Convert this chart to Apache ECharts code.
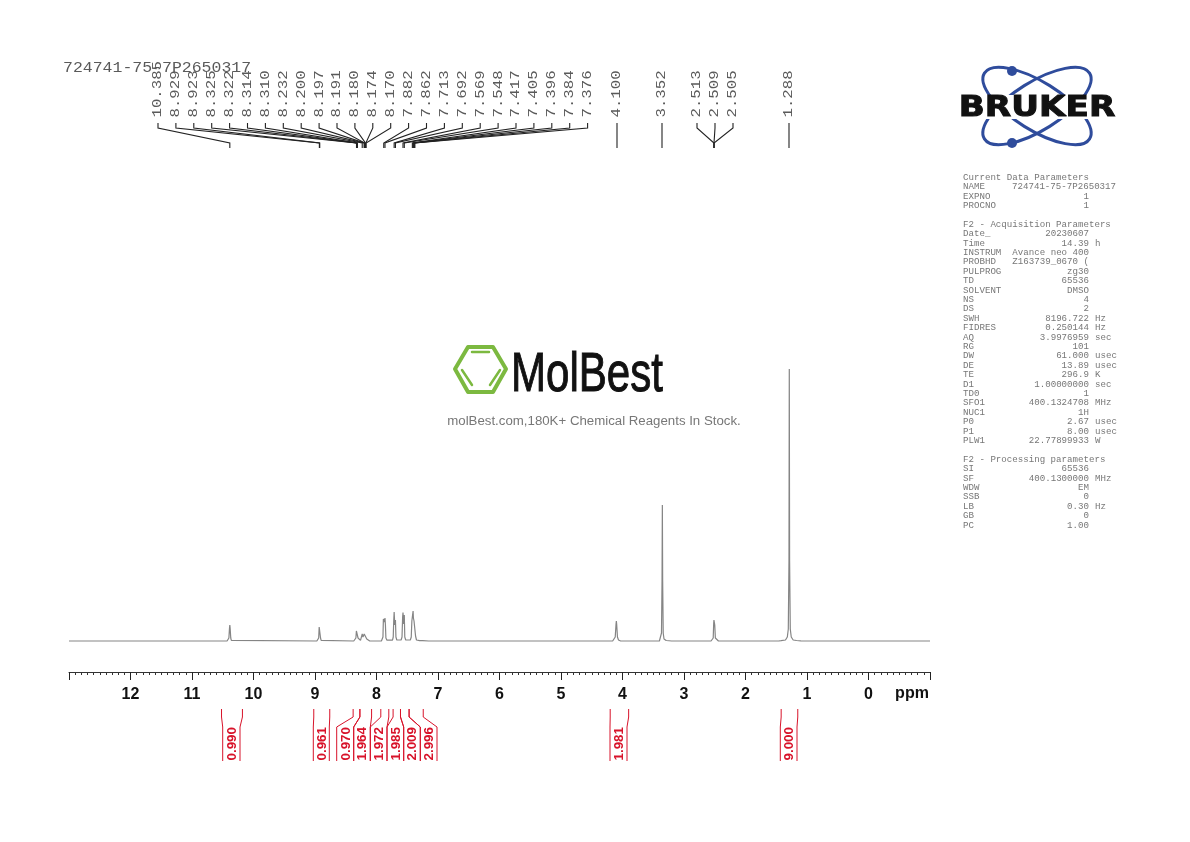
<!DOCTYPE html>
<html><head><meta charset="utf-8">
<style>html,body{margin:0;padding:0;background:#fff}#c{width:1190px;height:842px}</style>
<script src="https://cdn.jsdelivr.net/npm/echarts@6/dist/echarts.min.js"></script>
</head><body><div id="c"></div>
<script>
const sampleName = '724741-75-7P2650317';
const spectrumPpm = [13,10.43,10.41,10.40,10.39,10.385,10.38,10.37,10.36,10.34,
 8.97,8.95,8.94,8.932,8.929,8.926,8.923,8.92,8.91,8.90,8.88,
 8.37,8.35,8.335,8.327,8.322,8.318,8.314,8.31,8.30,8.285,8.26,
 8.245,8.232,8.22,8.208,8.2,8.197,8.191,8.185,8.18,8.174,8.17,8.158,8.14,8.11,
 7.92,7.905,7.895,7.888,7.882,7.875,7.868,7.862,7.855,7.847,7.83,7.80,
 7.74,7.728,7.72,7.713,7.703,7.697,7.692,7.684,7.67,
 7.60,7.585,7.575,7.569,7.558,7.553,7.548,7.54,7.525,
 7.45,7.435,7.425,7.417,7.41,7.405,7.4,7.396,7.39,7.384,7.376,7.365,7.35,7.3,7.25,7.23,7.22,7.15,
 4.16,4.135,4.118,4.105,4.1,4.095,4.082,4.065,4.03,
 3.40,3.38,3.366,3.357,3.352,3.347,3.338,3.325,3.29,3.2,
 2.56,2.54,2.525,2.517,2.513,2.509,2.505,2.5,2.49,2.475,2.44,
 1.46,1.44,1.42,1.4,1.35,1.32,1.304,1.293,1.288,1.283,1.272,1.256,1.225,1.17,1.14,1.1,1.0,-1];
const spectrumHeight = [0,0,.6,3,13,16,13,3,.6,0,
 0,.6,3,14,15.5,15,15,12,3,.6,0,
 0,1,3,10,11,8.5,9,9.5,3,1,.6,
 2,7,4,5.5,7,7.5,7,6,7,7.5,7,2,.5,0,
 0,1,4,22,24,19,20,23,16,3,.8,0,
 .8,4,20,29,16,18,21,4,1,
 1,4,24,28.5,17,22,26,4,1,
 1,4,20,24,22,30,23,25,20,21,18,5,1,.3,.3,.8,.3,0,
 0,1,4,17,20,17,4,1,0,
 0,2,8,60,136,60,8,2,.5,0,
 0,1,3,18,21,22,20,16,3,1,0,
 0,.5,.3,.5,1,4,12,80,272,80,12,4,1,.5,.8,.2,0,0];
const peakLabels = ['10.385','8.929','8.923','8.325','8.322','8.314','8.310','8.232','8.200','8.197','8.191','8.180','8.174','8.170','7.882','7.862','7.713','7.692','7.569','7.548','7.417','7.405','7.396','7.384','7.376','4.100','3.352','2.513','2.509','2.505','1.288'];
const integralFrom = [10.52,9.02,8.38,8.27,7.93,7.73,7.61,7.47,4.20,1.42];
const integralTo   = [10.18,8.76,8.27,8.08,7.80,7.61,7.47,7.24,3.90,1.15];
const integralValues = ['0.990','0.961','0.970','1.964','1.972','1.985','2.009','2.996','1.981','9.000'];
const axisTicks = [12,11,10,9,8,7,6,5,4,3,2,1,0];
const paramRows = [
 [0,'Current Data Parameters','',''],[1,'NAME',sampleName,''],[2,'EXPNO','1',''],[3,'PROCNO','1',''],
 [5,'F2 - Acquisition Parameters','',''],[6,'Date_','20230607',''],[7,'Time','14.39','h'],[8,'INSTRUM','Avance neo 400',''],
 [9,'PROBHD','Z163739_0670 (',''],[10,'PULPROG','zg30',''],[11,'TD','65536',''],[12,'SOLVENT','DMSO',''],[13,'NS','4',''],[14,'DS','2',''],
 [15,'SWH','8196.722','Hz'],[16,'FIDRES','0.250144','Hz'],[17,'AQ','3.9976959','sec'],[18,'RG','101',''],[19,'DW','61.000','usec'],
 [20,'DE','13.89','usec'],[21,'TE','296.9','K'],[22,'D1','1.00000000','sec'],[23,'TD0','1',''],[24,'SFO1','400.1324708','MHz'],
 [25,'NUC1','1H',''],[26,'P0','2.67','usec'],[27,'P1','8.00','usec'],[28,'PLW1','22.77899933','W'],
 [30,'F2 - Processing parameters','',''],[31,'SI','65536',''],[32,'SF','400.1300000','MHz'],[33,'WDW','EM',''],[34,'SSB','0',''],
 [35,'LB','0.30','Hz'],[36,'GB','0',''],[37,'PC','1.00','']];

// layout only
const labelColumnX = i => i < 25 ? 158 + 17.9 * i : [617,662,697,715,733,789][i-25];
const leaderTargetX = {'2.513':714,'2.509':714,'2.505':714,'4.100':617,'3.352':662,'1.288':789};
const integralCellEdges = [[222.7,240],[313.3,329.3],[336.7,353.7],[353.7,370.3],[370.3,387],[387,403.7],[403.7,420.3],[420.3,437],[610,627],[780.3,797]];
const RED = '#d8132a', MONO = '"Liberation Mono","DejaVu Sans Mono",monospace', SANS = '"Liberation Sans",Arial,sans-serif';

const chart = echarts.init(document.getElementById('c'), null, {renderer:'canvas'});

function renderLeader(params, api){
  const i = params.dataIndex, lab = peakLabels[i], lx = labelColumnX(i);
  const px = leaderTargetX[lab] !== undefined ? leaderTargetX[lab] : api.coord([parseFloat(lab),0])[0];
  return {type:'group', silent:true, children:[
    {type:'polyline', shape:{points:[[lx,123],[lx,128],[px,143],[px,148]]}, style:{stroke:'#222',lineWidth:1.1,fill:null}},
    {type:'text', x:lx, y:117.5, rotation:Math.PI/2, scaleY:0.82, style:{text:lab, font:'15.7px '+MONO, fill:'#5a5a5a', align:'left', verticalAlign:'middle'}}
  ]};
}
function renderIntegral(params, api){
  const i = params.dataIndex, e = integralCellEdges[i];
  const a = api.coord([integralFrom[i],0])[0], b = api.coord([integralTo[i],0])[0];
  const edge = (t,m) => ({type:'polyline', shape:{points:[[t,709],[t,717],[m,727],[m,761]]}, style:{stroke:RED,lineWidth:1,fill:null}});
  return {type:'group', silent:true, children:[edge(a,e[0]), edge(b,e[1]),
    {type:'text', x:(e[0]+e[1])/2+0.8, y:760.5, rotation:Math.PI/2, style:{text:integralValues[i], font:'bold 13.4px '+SANS, fill:RED, align:'left', verticalAlign:'middle'}}
  ]};
}

const graphic = [];
graphic.push({type:'text', x:63, y:68, scaleY:0.85, style:{text:sampleName, font:'16.5px '+MONO, fill:'#5a5a5a', align:'left', verticalAlign:'middle'}});
graphic.push({type:'text', x:912, y:694, style:{text:'ppm', font:'bold 16px '+SANS, fill:'#111', align:'center', verticalAlign:'middle'}});
// Bruker logo
[-32,32].forEach(d=>graphic.push({type:'ellipse', x:1037, y:106, rotation:Math.PI/180*d, shape:{cx:0,cy:0,rx:62,ry:24}, style:{stroke:'#2f4c9c',lineWidth:3,fill:null}}));
graphic.push({type:'rect', shape:{x:955,y:95,width:164,height:24}, style:{fill:'#fff'}});
graphic.push({type:'circle', shape:{cx:1012,cy:71,r:5}, style:{fill:'#2f4c9c'}});
graphic.push({type:'circle', shape:{cx:1012,cy:143,r:5}, style:{fill:'#2f4c9c'}});
graphic.push({type:'text', x:1037, y:108.5, scaleX:1.18, style:{text:'BRUKER', font:'900 29px "DejaVu Sans",sans-serif', fill:'#111', stroke:'#111', lineWidth:1, align:'center', verticalAlign:'middle'}});
// MolBest logo
graphic.push({type:'polygon', shape:{points:[[468,347],[493,347],[506,369],[493,392],[468,392],[455,369]]}, style:{stroke:'#7cb940',lineWidth:4,fill:null,lineJoin:'round'}});
[[[472,352],[489,352]],[[462,370],[472,385]],[[500,370],[490,385]]].forEach(p=>graphic.push({type:'polyline', shape:{points:p}, style:{stroke:'#7cb940',lineWidth:2.5,lineCap:'round',fill:null}}));
graphic.push({type:'text', x:511, y:376, scaleX:0.765, style:{text:'MolBest', font:'55px '+SANS, fill:'#111', stroke:'#111', lineWidth:1, align:'left', verticalAlign:'middle'}});
graphic.push({type:'text', x:594, y:421.5, style:{text:'molBest.com,180K+ Chemical Reagents In Stock.', font:'13.25px '+SANS, fill:'#777', align:'center', verticalAlign:'middle'}});
// parameter table
const PF = '9.13px '+MONO, PC = '#777';
paramRows.forEach(r=>{
  const y = 177.4 + 9.4*r[0];
  graphic.push({type:'text', x:963, y, style:{text:r[1], font:PF, fill:PC, align:'left', verticalAlign:'middle'}});
  if(r[2]) graphic.push({type:'text', x:r[1]==='NAME'?1012:1089, y, style:{text:r[2], font:PF, fill:PC, align:r[1]==='NAME'?'left':'right', verticalAlign:'middle'}});
  if(r[3]) graphic.push({type:'text', x:1095, y, style:{text:r[3], font:PF, fill:PC, align:'left', verticalAlign:'middle'}});
});

chart.setOption({
  animation:false, backgroundColor:'#fff',
  grid:{left:69, width:861, top:360, height:312},
  xAxis:{type:'value', inverse:true, min:-1, max:13, interval:1, position:'bottom',
    axisLine:{onZero:false, lineStyle:{color:'#333',width:1}},
    axisTick:{length:8, lineStyle:{color:'#222',width:1}},
    minorTick:{show:true, splitNumber:10, length:3, lineStyle:{color:'#333',width:1}},
    splitLine:{show:false},
    axisLabel:{margin:15, color:'#111', fontFamily:'Liberation Sans', fontWeight:'bold', fontSize:16,
      formatter:v=>axisTicks.includes(v)?String(v):''}},
  yAxis:{type:'value', min:-31, max:281, show:false},
  series:[
    {type:'line', data:spectrumPpm.map((p,i)=>[p,spectrumHeight[i]]), showSymbol:false, symbol:'none', sampling:null, lineStyle:{color:'#858585',width:1.2}, silent:true, clip:false},
    {type:'custom', data:peakLabels.map(s=>[parseFloat(s),0]), renderItem:renderLeader, silent:true, clip:false},
    {type:'custom', data:integralValues.map((s,i)=>[integralFrom[i],0]), renderItem:renderIntegral, silent:true, clip:false}
  ],
  graphic:{elements:graphic}
});
</script></body></html>
